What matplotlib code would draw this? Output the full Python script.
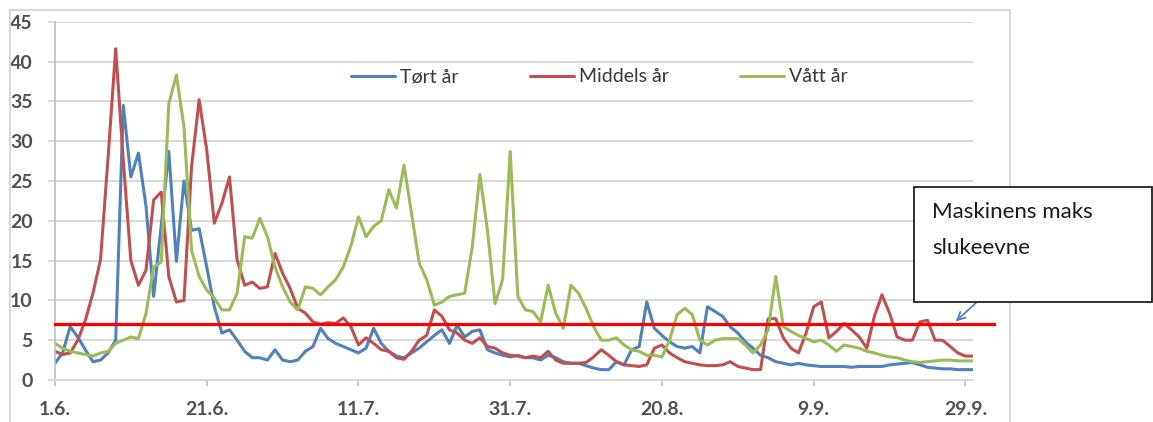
import numpy as np
import matplotlib.pyplot as plt
from matplotlib.patches import Rectangle

plt.rcParams['font.family'] = ['Lato', 'DejaVu Sans']

# daily discharge, 1.6. - 30.9.
tort = [2.1, 3.4, 6.7, 5.4, 3.8, 2.3, 2.5, 3.4, 5.0, 34.5,
        25.5, 28.5, 21.8, 10.5, 19.4, 28.7, 14.9, 25.0, 18.8, 19.0,
        14.2, 9.2, 5.9, 6.3, 5.0, 3.6, 2.8, 2.8, 2.5, 3.8,
        2.5, 2.3, 2.5, 3.6, 4.2, 6.5, 5.2, 4.6, 4.2, 3.8,
        3.4, 4.0, 6.5, 4.6, 3.6, 3.0, 2.8, 3.4, 4.0, 4.8,
        5.6, 6.3, 4.6, 6.9, 5.4, 6.1, 6.3, 3.8, 3.4, 3.1,
        2.9, 3.1, 2.8, 2.8, 2.5, 3.1, 2.8, 2.3, 2.1, 2.1,
        1.8, 1.5, 1.3, 1.3, 2.3, 1.9, 3.8, 4.2, 9.8, 6.5,
        5.6, 4.8, 4.2, 4.0, 4.2, 3.4, 9.2, 8.6, 8.0, 6.7,
        5.9, 4.8, 4.0, 3.1, 2.8, 2.3, 2.1, 1.9, 2.1, 1.9,
        1.8, 1.7, 1.7, 1.7, 1.7, 1.6, 1.7, 1.7, 1.7, 1.7,
        1.9, 2.0, 2.1, 2.2, 1.9, 1.6, 1.5, 1.4, 1.4, 1.3,
        1.3, 1.3]
middels = [3.6, 3.2, 3.4, 5.0, 7.5, 10.9, 15.1, 28.0, 41.6, 27.6,
           15.0, 11.9, 13.8, 22.6, 23.6, 13.0, 9.8, 10.0, 26.8, 35.2,
           28.9, 19.7, 22.2, 25.5, 15.1, 11.9, 12.3, 11.5, 11.7, 15.9,
           13.4, 11.5, 9.0, 8.4, 7.3, 7.0, 7.2, 7.1, 7.8, 6.7,
           4.4, 5.3, 4.6, 3.8, 3.6, 2.8, 2.6, 3.6, 5.0, 5.6,
           8.8, 8.0, 6.3, 5.9, 5.0, 4.6, 5.3, 4.2, 4.0, 3.4,
           3.1, 3.0, 2.8, 3.0, 2.8, 3.6, 2.5, 2.1, 2.1, 2.1,
           2.2, 2.9, 3.8, 3.1, 2.3, 1.9, 1.8, 1.7, 1.9, 4.0,
           4.4, 3.4, 2.8, 2.3, 2.1, 1.9, 1.8, 1.8, 1.9, 2.3,
           1.7, 1.5, 1.3, 1.3, 7.7, 7.7, 5.3, 4.0, 3.4, 5.9,
           9.2, 9.8, 5.3, 6.1, 7.1, 6.3, 5.4, 4.0, 8.0, 10.7,
           8.4, 5.4, 5.0, 5.0, 7.3, 7.5, 5.0, 5.0, 4.2, 3.4,
           3.0, 3.0]
vatt = [4.6, 4.0, 3.6, 3.4, 3.2, 3.0, 3.4, 3.6, 4.6, 5.0,
        5.4, 5.2, 8.4, 14.2, 14.8, 34.7, 38.3, 31.8, 16.3, 13.0,
        11.3, 10.3, 8.8, 8.8, 10.9, 18.0, 17.8, 20.3, 18.0, 14.2,
        11.7, 9.8, 8.8, 11.7, 11.5, 10.7, 11.7, 12.6, 14.2, 16.8,
        20.5, 18.0, 19.3, 20.0, 23.9, 21.6, 27.0, 20.9, 14.7, 12.6,
        9.4, 9.8, 10.5, 10.7, 10.9, 16.7, 25.8, 18.8, 9.6, 12.6,
        28.7, 10.5, 8.8, 8.6, 7.3, 11.9, 8.4, 6.5, 11.9, 10.9,
        9.0, 6.7, 5.0, 5.0, 5.3, 4.4, 3.8, 3.6, 3.1, 3.1,
        2.9, 5.0, 8.2, 9.0, 8.2, 5.0, 4.4, 5.0, 5.2, 5.2,
        5.2, 4.4, 3.4, 4.4, 6.3, 13.0, 6.7, 6.1, 5.6, 5.2,
        4.8, 5.0, 4.4, 3.6, 4.4, 4.2, 4.0, 3.6, 3.4, 3.1,
        2.9, 2.8, 2.5, 2.3, 2.2, 2.3, 2.4, 2.5, 2.5, 2.4,
        2.4, 2.4]
maks_slukeevne = 7
tick_pos = [0, 20, 40, 60, 80, 100, 120]
tick_labels = ['1.6.', '21.6.', '11.7.', '31.7.', '20.8.', '9.9.', '29.9.']

W, H = 1153, 422
fig = plt.figure(figsize=(W / 100, H / 100), dpi=100)
ax = fig.add_axes([55 / W, 1 - 380 / H, 918 / W, 358.3 / H])

days = np.arange(len(tort))
kw = dict(lw=2.2, solid_joinstyle='round', solid_capstyle='round')
ax.plot(days, tort, color='#4F81BD', label='Tørt år', **kw)
ax.plot(days, middels, color='#C0504D', label='Middels år', **kw)
ax.plot(days, vatt, color='#9BBB59', label='Vått år', **kw)

# red capacity line, drawn a bit past the plot area
ax.plot([0, 123.8], [maks_slukeevne, maks_slukeevne], color='#FF0000',
        lw=2.3, clip_on=False, zorder=5)

ax.set_xlim(0, 121)
ax.set_ylim(0, 45)
ax.set_yticks(range(0, 46, 5))
ax.set_xticks(tick_pos)
ax.set_xticklabels(tick_labels)
ax.grid(axis='y', color='#D9D9D9', lw=1.4)
ax.set_axisbelow(True)
for s in ['top', 'right']:
    ax.spines[s].set_visible(False)
ax.spines['left'].set_color('#BFBFBF')
ax.spines['bottom'].set_color('#D9D9D9')
ax.spines['left'].set_linewidth(1.2)
ax.spines['bottom'].set_linewidth(1.4)
ax.tick_params(axis='y', length=5, width=1.4, color='#D9D9D9', pad=11,
               labelsize=14, labelcolor='#505050')
ax.tick_params(axis='x', length=4, width=1.2, color='#BFBFBF', pad=11,
               labelsize=14, labelcolor='#505050')
for lab in ax.get_xticklabels() + ax.get_yticklabels():
    lab.set_fontweight('bold')

leg = ax.legend(loc='center', bbox_to_anchor=(0.593, 0.846), ncol=3,
                frameon=False, fontsize=14, handlelength=2.25,
                handletextpad=0.25, columnspacing=3.7)
for t in leg.get_texts():
    t.set_color('#383838')

# chart area border
fig.patches.append(Rectangle((10 / W, -0.1), 1000 / W, 1.1 - 10 / H,
                             transform=fig.transFigure, fill=False,
                             ec='#D9D9D9', lw=1.5))

# callout box
fig.patches.append(Rectangle((914 / W, 1 - 302 / H), 238 / W, 115 / H,
                             transform=fig.transFigure, fc='white',
                             ec='#202020', lw=1.3, zorder=10))
fig.text(932 / W, 1 - 218 / H, 'Maskinens maks', fontsize=16,
         color='#1a1a1a', zorder=11)
fig.text(932 / W, 1 - 254 / H, 'slukeevne', fontsize=16,
         color='#1a1a1a', zorder=11)
fig.add_artist(plt.annotate('', xy=(954 / W, 1 - 323 / H), xycoords='figure fraction',
                            xytext=(978 / W, 1 - 301 / H), textcoords='figure fraction',
                            arrowprops=dict(arrowstyle='->', color='#4F81BD', lw=1,
                                            mutation_scale=14)))

fig.savefig('out.png', dpi=100)
